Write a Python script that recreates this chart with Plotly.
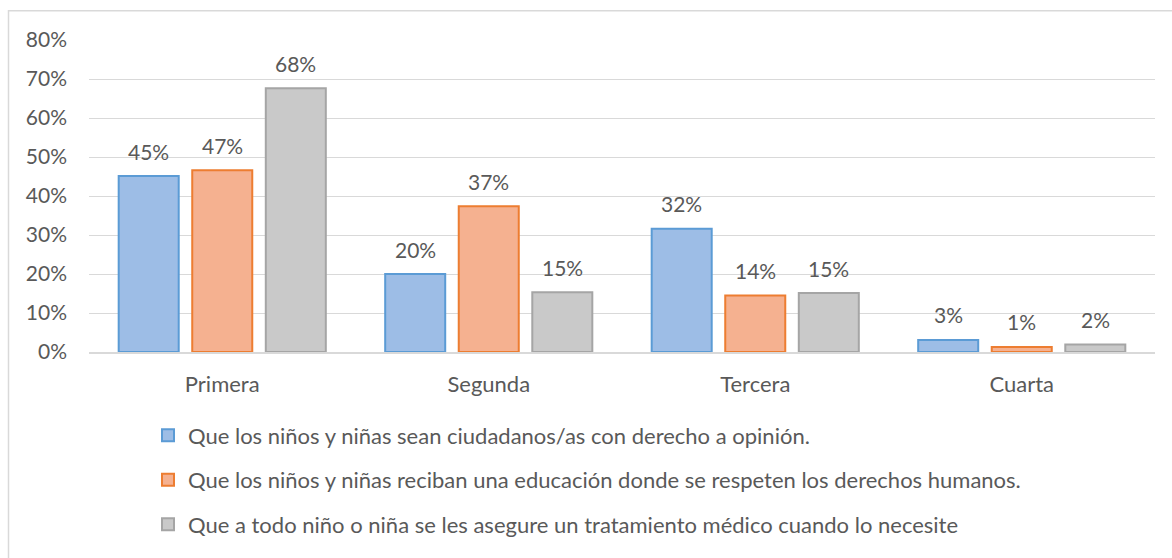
import plotly.graph_objects as go

categories = ["Primera", "Segunda", "Tercera", "Cuarta"]
series_names = [
    "Que los niños y niñas sean ciudadanos/as con derecho a opinión.",
    "Que los niños y niñas reciban una educación donde se respeten los derechos humanos.",
    "Que a todo niño o niña se les asegure un tratamiento médico cuando lo necesite",
]
serie_opinion = [0.451, 0.200, 0.316, 0.031]
serie_educacion = [0.466, 0.374, 0.145, 0.013]
serie_medico = [0.676, 0.153, 0.151, 0.019]
series_values = [serie_opinion, serie_educacion, serie_medico]
y_ticks = [0, 0.1, 0.2, 0.3, 0.4, 0.5, 0.6, 0.7, 0.8]

fills = ["#9dbde6", "#f5b190", "#c9c9c9"]
borders = ["#5b9bd5", "#ed7d31", "#a5a5a5"]
TXT = "#595959"
FONT = "Lato"

W, H = 1172, 558
PL, PR, PT, PB = 89, 1155, 40, 355.5  # plot area in pixels
L, T, R, B = PL, PT, W - PR, H - PB
BARGAP = 0.172
GROUPGAP = 0.184
plot_w = PR - PL
plot_h = PB - PT
slot = plot_w / len(categories) * (1 - BARGAP) / len(series_values)


def py(pix):
    return (PB - pix) / plot_h


def px(pix):
    return (pix - PL) / plot_w


fig = go.Figure()
legends = ["legend", "legend2", "legend3"]
for i, (name, vals) in enumerate(zip(series_names, series_values)):
    fig.add_trace(go.Bar(
        x=categories, y=vals, name=name,
        marker=dict(color=fills[i], line=dict(color=borders[i], width=2)),
        legend=legends[i],
    ))
    for c, v in zip(categories, vals):
        fig.add_annotation(
            x=c, y=v, text=f"{round(v*100)}%", showarrow=False,
            xshift=(i - 1) * slot, yshift=25, yanchor="middle",
            font=dict(family=FONT, size=21, color=TXT),
        )

legend_y = [440, 485, 530]
layout_legends = {}
for i, lg in enumerate(legends):
    layout_legends[lg] = dict(
        x=px(148), y=py(legend_y[i]), xanchor="left", yanchor="middle",
        orientation="h", bgcolor="rgba(0,0,0,0)",
        font=dict(family=FONT, size=22, color=TXT),
    )

fig.update_layout(
    width=W, height=H,
    margin=dict(l=L, r=R, t=T, b=B),
    paper_bgcolor="white", plot_bgcolor="white",
    barmode="group", bargap=BARGAP, bargroupgap=GROUPGAP,
    font=dict(family=FONT, color=TXT),
    showlegend=True,
    **layout_legends,
)
fig.update_yaxes(
    range=[0, 0.8], tickvals=y_ticks, tickformat=".0%",
    showgrid=True, gridcolor="#d9d9d9", gridwidth=1.3,
    zeroline=False, showline=False,
    tickfont=dict(family=FONT, size=21, color=TXT),
    ticklabelstandoff=21,
)
fig.update_xaxes(
    showline=True, linecolor="#d9d9d9", linewidth=1.5,
    tickfont=dict(family=FONT, size=22, color=TXT),
    ticklabelstandoff=12, ticks="",
)
fig.add_shape(
    type="rect", xref="paper", yref="paper",
    x0=px(8.5), x1=px(1190), y0=py(10.5), y1=py(600),
    line=dict(color="#d9d9d9", width=1.5), fillcolor="rgba(0,0,0,0)",
    layer="below",
)

fig.write_html(
    "out.html",
    config={"displayModeBar": False},
    post_script="document.body.style.margin='0';document.documentElement.style.overflow='hidden';",
)
